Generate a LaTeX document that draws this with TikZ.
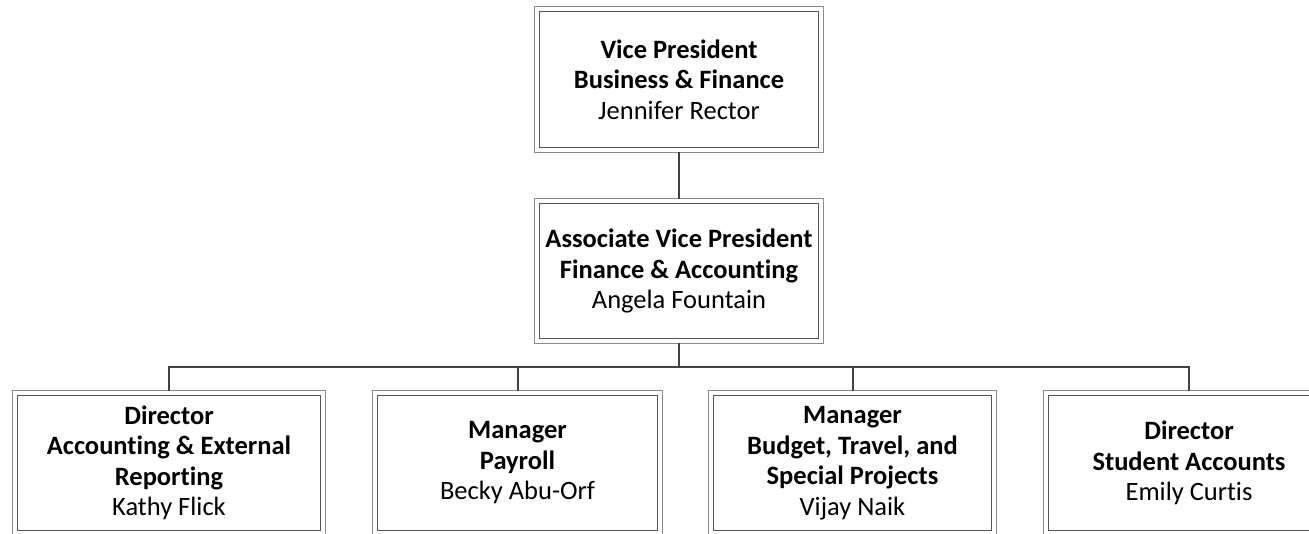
\documentclass[tikz,border=0pt]{standalone}
\usepackage{fontspec}
\setmainfont[Ligatures={NoCommon}]{Carlito}
\definecolor{outerline}{HTML}{8A8A8A}
\definecolor{innerline}{HTML}{555555}
\definecolor{connline}{HTML}{404040}
\tikzset{
  orgbox/.style={align=center, inner sep=0pt, minimum height=144pt,
    font=\fontsize{26.5}{30.5}\selectfont},
  outerrect/.style={draw=outerline, line width=1pt},
  innerrect/.style={draw=innerline, line width=1pt},
  conn/.style={draw=connline, line width=2pt}
}
\begin{document}
\begin{tikzpicture}[x=1pt,y=-1pt]
\useasboundingbox (0,0) rectangle (1309,533);
\node[orgbox, minimum width=288pt, minimum height=145pt] (vp) at (679,79.5)
  {\textbf{Vice President}\\\textbf{Business \& Finance}\\Jennifer Rector};
\node[orgbox, minimum width=288pt] (avp) at (679,271)
  {\textbf{Associate Vice President}\\\textbf{Finance \& Accounting}\\Angela Fountain};
\node[orgbox, minimum width=312pt] (d1) at (169,463)
  {\textbf{Director}\\\textbf{Accounting \& External}\\\textbf{Reporting}\\Kathy Flick};
\node[orgbox, minimum width=289pt] (d2) at (517.5,463)
  {\textbf{Manager}\\\textbf{Payroll}\\Becky Abu-Orf};
\node[orgbox, minimum width=287pt] (d3) at (852.5,463)
  {\textbf{Manager}\\\textbf{Budget, Travel, and}\\\textbf{Special Projects}\\Vijay Naik};
\node[orgbox, minimum width=290pt] (d4) at (1189,463)
  {\textbf{Director}\\\textbf{Student Accounts}\\Emily Curtis};
\foreach \n in {vp,avp,d1,d2,d3,d4}{
  \draw[outerrect] (\n.north west) rectangle (\n.south east);
  \draw[innerrect] ([shift={(5,5)}]\n.north west) rectangle ([shift={(-5,-5)}]\n.south east);
}
\coordinate (bus) at (679,367);
\draw[conn] (vp.south) -- (avp.north);
\draw[conn] (avp.south) -- (bus);
\draw[conn] (d1.north) |- (bus) -| (d4.north);
\draw[conn] (d2.north |- bus) -- (d2.north);
\draw[conn] (d3.north |- bus) -- (d3.north);
\end{tikzpicture}
\end{document}
